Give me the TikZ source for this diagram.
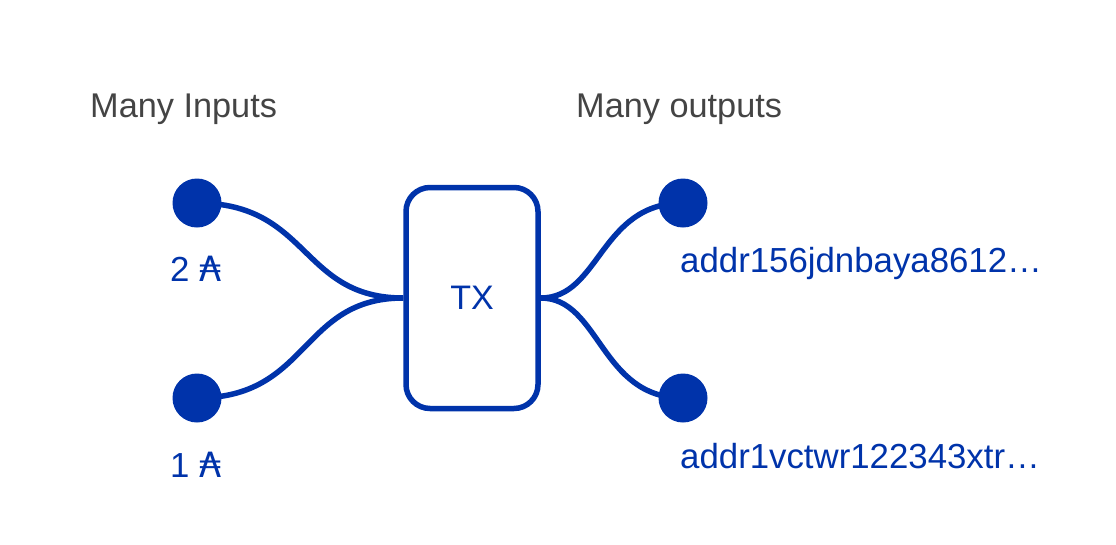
\documentclass[tikz,border=0pt]{standalone}
\usepackage{fontspec}
\setmainfont{Liberation Sans}
\newfontfamily\symfont{DejaVu Sans}
\definecolor{cblue}{HTML}{0033AA}
\definecolor{cgray}{HTML}{444444}
\begin{document}
\begin{tikzpicture}[x=1pt,y=-1pt,
  dotnode/.style={circle,fill=cblue,minimum size=49pt,inner sep=0pt},
  wire/.style={draw=cblue,line width=5.5pt},
  txt/.style={anchor=base west,inner sep=0pt},
  head/.style={txt,text=cgray,font=\fontsize{34.3}{40}\selectfont},
  lab/.style={txt,text=cblue,font=\fontsize{34.8}{40}\selectfont},
  txbox/.style={draw=cblue,line width=5.5pt,rounded corners=24pt,minimum width=132pt,minimum height=221pt,fill=white,text=cblue,font=\fontsize{34}{40}\selectfont}]
\useasboundingbox (0,0) rectangle (1116,544);
\node[head] (hin) at (90,117) {Many Inputs};
\node[head] (hout) at (576,117) {Many outputs};
\coordinate (i1) at (197,203);
\coordinate (i2) at (197,398);
\coordinate (o1) at (683,203);
\coordinate (o2) at (683,398);
\node[txbox] (tx) at (472,298) {TX};
\draw[wire] (i1) .. controls (310,203) and (300,298) .. (tx.west);
\draw[wire] (i2) .. controls (310,398) and (300,298) .. (tx.west);
\draw[wire] (tx.east) .. controls (600,298) and (600,203) .. (o1);
\draw[wire] (tx.east) .. controls (600,298) and (600,398) .. (o2);
\node[dotnode] (d1) at (i1) {};
\node[dotnode] (d2) at (i2) {};
\node[dotnode] (d3) at (o1) {};
\node[dotnode] (d4) at (o2) {};
\node[lab] (l1) at (170,281) {2 {\symfont ₳}};
\node[lab] (l2) at (170,477) {1 {\symfont ₳}};
\node[lab] (l3) at (680,272) {addr156jdnbaya8612…};
\node[lab] (l4) at (680,468) {addr1vctwr122343xtr…};
\end{tikzpicture}
\end{document}
